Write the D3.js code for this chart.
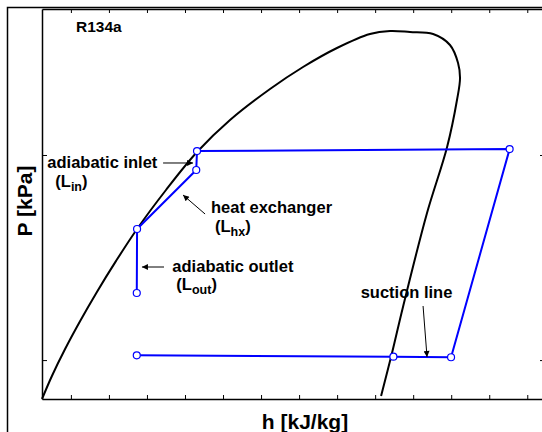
<!DOCTYPE html>
<html>
<head>
<meta charset="utf-8">
<script src="https://cdn.jsdelivr.net/npm/d3@7"></script>
<style>
body { margin: 0; background: #fff; }
text { font-family: "Liberation Sans", Arial, Helvetica, sans-serif; font-weight: bold; fill: #000; }
</style>
</head>
<body>
<div id="chart"></div>
<script>
// saturation dome of R134a, h [kJ/kg] / P [kPa]
var domeH = [156.0, 162.6, 171.1, 181.0, 192.2, 204.7, 218.5, 237.5, 257.9, 279.6, 305.9, 327.6, 349.9, 371.6, 384.8, 397.9, 413.1, 424.2, 429.5, 430.8, 428.8, 422.3, 409.1, 393.3, 386.1, 378.9];
var domeP = [64.6, 83.9, 112.9, 154.6, 215.5, 304.5, 435.6, 675.0, 1034, 1481, 2098, 2686, 3324, 3890, 4023, 3978, 3890, 3438, 2809, 2374, 1854, 1094, 521.3, 181.5, 108.3, 66.8];

// cycle state points (no line between D and E)
var cycleH = [218.3, 387.0, 424.9, 463.4, 257.9, 257.4, 218.5, 218.3];
var cycleP = [105.5, 103.9, 103.2, 1069, 1045, 845, 435.6, 212.3];

var hTicks = [175, 200, 225, 250, 275, 300, 325, 350, 375, 400, 425, 450, 475];
var pTicks = [100, 1000];

// annotations
var annLabel = ["adiabatic inlet", "heat exchanger", "adiabatic outlet", "suction line"];
var annSub = ["in", "hx", "out", ""];
var annTextH = [159.5, 267.1, 241.7, 395.6];
var annTextP = [861, 519.5, 269.7, 200.8];
var tailH = [235.6, 263.2, 236.2, 406.5];
var tailP = [914, 515.5, 284.3, 183.5];
var tipH = [255.3, 248.7, 221.7, 409.1];
var tipP = [914, 638.2, 284.3, 103.6];

var margin = {top: 9, left: 42},
    width = 502,
    height = 390;

var svg = d3.select("#chart")
  .append("svg")
    .attr("width", 542)
    .attr("height", 432);

svg.append("defs").append("marker")
    .attr("id", "arr")
    .attr("viewBox", "0 0 10 10")
    .attr("refX", 10)
    .attr("refY", 5)
    .attr("markerUnits", "userSpaceOnUse")
    .attr("markerWidth", 8)
    .attr("markerHeight", 6)
    .attr("orient", "auto")
  .append("path")
    .attr("d", "M0,0 L10,5 L0,10 z")
    .attr("fill", "#000");

// outer frame
svg.append("rect")
    .attr("x", 7.5).attr("y", 7.5)
    .attr("width", 600).attr("height", 500)
    .attr("fill", "none")
    .attr("stroke", "#000")
    .attr("stroke-width", 1.5);

var g = svg.append("g")
    .attr("transform", "translate(" + margin.left + "," + margin.top + ")");

var x = d3.scaleLinear().domain([156, 486]).range([0, width]);
var y = d3.scaleLog().domain([64.6, 5150]).range([height, 0]);

function tickAxis(axis, tx, ty) {
  var a = g.append("g")
      .attr("transform", "translate(" + tx + "," + ty + ")")
      .call(axis);
  a.select(".domain").attr("stroke-width", 1.5);
  a.selectAll(".tick line").attr("stroke-width", 1);
  return a;
}
tickAxis(d3.axisBottom(x).tickValues(hTicks).tickSize(-4).tickSizeOuter(0).tickFormat(""), 0, height);
tickAxis(d3.axisTop(x).tickValues(hTicks).tickSize(-4).tickSizeOuter(0).tickFormat(""), 0, 0);
tickAxis(d3.axisLeft(y).tickValues(pTicks).tickSize(-5).tickSizeOuter(0).tickFormat(""), 0, 0);
tickAxis(d3.axisRight(y).tickValues(pTicks).tickSize(-4).tickSizeOuter(0).tickFormat(""), width, 0);

var dome = domeH.map(function(h, i) { return [h, domeP[i]]; });
g.append("path")
    .datum(dome)
    .attr("fill", "none")
    .attr("stroke", "#000")
    .attr("stroke-width", 2)
    .attr("d", d3.line()
        .curve(d3.curveCatmullRom.alpha(0.5))
        .x(function(d) { return x(d[0]); })
        .y(function(d) { return y(d[1]); }));

var cycle = cycleH.map(function(h, i) { return [h, cycleP[i]]; });
g.append("path")
    .datum(cycle)
    .attr("fill", "none")
    .attr("stroke", "#0000ff")
    .attr("stroke-width", 2)
    .attr("d", d3.line()
        .x(function(d) { return x(d[0]); })
        .y(function(d) { return y(d[1]); }));

g.selectAll("circle.pt")
    .data(cycle)
  .enter().append("circle")
    .attr("class", "pt")
    .attr("cx", function(d) { return x(d[0]); })
    .attr("cy", function(d) { return y(d[1]); })
    .attr("r", 3.5)
    .attr("fill", "#fff")
    .attr("stroke", "#0000ff")
    .attr("stroke-width", 1.2);

// arrows + labels
annLabel.forEach(function(lab, i) {
  g.append("line")
      .attr("x1", x(tailH[i])).attr("y1", y(tailP[i]))
      .attr("x2", x(tipH[i])).attr("y2", y(tipP[i]))
      .attr("stroke", "#000")
      .attr("stroke-width", 1)
      .attr("marker-end", "url(#arr)");

  var tx = x(annTextH[i]), ty = y(annTextP[i]);
  g.append("text")
      .attr("x", tx).attr("y", ty)
      .style("font-size", "16.5px")
      .style("text-anchor", annSub[i] ? "start" : "middle")
      .text(lab);

  if (annSub[i]) {
    var t = g.append("text")
        .attr("x", tx + (i == 0 ? 8 : 4)).attr("y", ty + 18.5)
        .style("font-size", "16.5px");
    t.append("tspan").text("(L");
    t.append("tspan").attr("dy", 4).style("font-size", "12.5px").text(annSub[i]);
    t.append("tspan").attr("dy", -4).text(")");
  }
});

svg.append("text")
    .attr("x", 76).attr("y", 31.5)
    .style("font-size", "15.5px")
    .text("R134a");

svg.append("text")
    .attr("transform", "translate(32,201) rotate(-90)")
    .style("text-anchor", "middle")
    .style("font-size", "21px")
    .text("P [kPa]");

svg.append("text")
    .attr("x", 305).attr("y", 429)
    .style("text-anchor", "middle")
    .style("font-size", "21px")
    .text("h [kJ/kg]");
</script>
</body>
</html>
